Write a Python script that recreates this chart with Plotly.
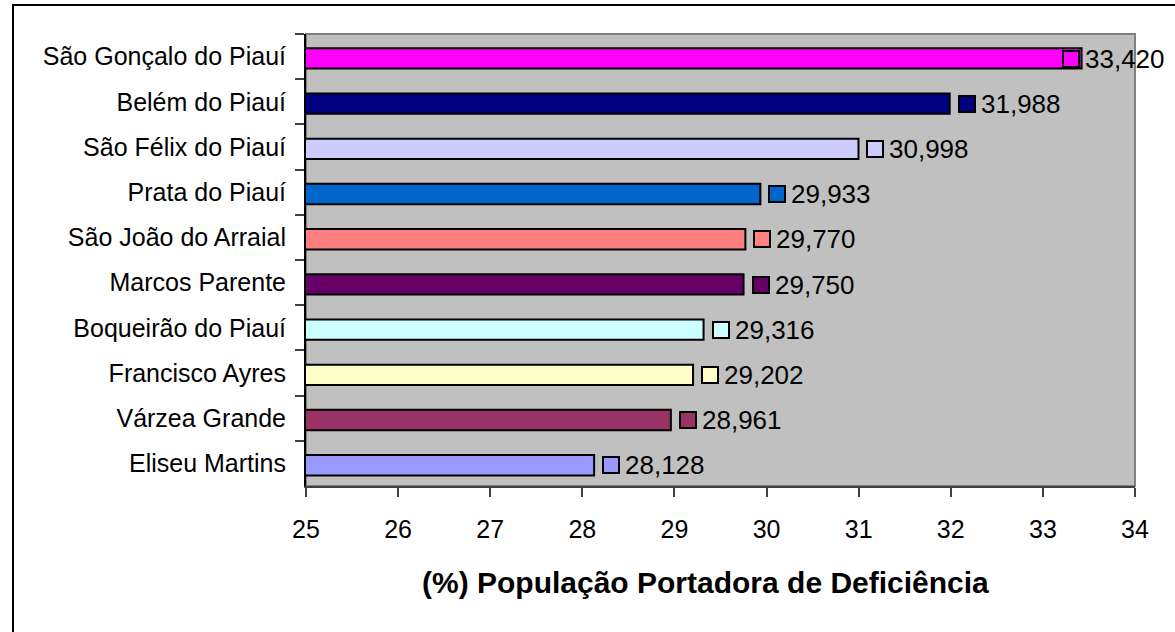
import plotly.graph_objects as go

# ---- data (top to bottom) ----
categories = ["São Gonçalo do Piauí", "Belém do Piauí", "São Félix do Piauí", "Prata do Piauí",
              "São João do Arraial", "Marcos Parente", "Boqueirão do Piauí", "Francisco Ayres",
              "Várzea Grande", "Eliseu Martins"]
values = [33.420, 31.988, 30.998, 29.933, 29.770, 29.750, 29.316, 29.202, 28.961, 28.128]
value_labels = ["33,420", "31,988", "30,998", "29,933", "29,770", "29,750", "29,316", "29,202", "28,961", "28,128"]
colors = ["#FF00FF", "#000080", "#CCCCFF", "#0066CC", "#FF8080", "#660066",
          "#CCFFFF", "#FFFFCC", "#993366", "#9999FF"]
x_range = [25, 34]
x_title = "(%) População Portadora de Deficiência"

# ---- layout geometry ----
W, H = 1175, 632
ML, MR, MT, MB = 306, 40, 34, 146
PW = W - ML - MR
PH = H - MT - MB
FONT = "Liberation Sans, Arial, sans-serif"
FS = 25
BAR_W = 0.45
BAR_SHIFT = 0.04  # bars sit slightly below category centre

fig = go.Figure()
fig.add_trace(go.Bar(
    y=categories, x=values, orientation="h", base=0,
    marker=dict(color=colors, line=dict(color="black", width=2)),
    width=BAR_W, offset=-BAR_W / 2 + BAR_SHIFT,
    showlegend=False, hoverinfo="skip",
))

annotations = []
key_w = 14
gap_bar = 8
gap_txt = 8
text_w = 80
max_right = 1166
ysh = -2
for cat, v, lab, c in zip(categories, values, value_labels, colors):
    px = ML + (v - x_range[0]) / (x_range[1] - x_range[0]) * PW
    left = px + gap_bar
    total = key_w + 2 + gap_txt + text_w
    if left + total > max_right:
        left = max_right - total
    shift = left - px
    annotations.append(dict(
        x=v, y=cat, xref="x", yref="y", text=" ", showarrow=False,
        xanchor="left", yanchor="middle", xshift=shift, yshift=ysh,
        width=key_w, height=key_w, bgcolor=c, bordercolor="black",
        borderwidth=2, borderpad=0, font=dict(size=6),
    ))
    annotations.append(dict(
        x=v, y=cat, xref="x", yref="y", text=lab, showarrow=False,
        xanchor="left", yanchor="middle", xshift=shift + key_w + 2 + gap_txt - 3, yshift=ysh,
        font=dict(family=FONT, size=26, color="black"),
    ))

# axis title as annotation
annotations.append(dict(
    x=(705.5 - ML) / PW, y=-(582 - (MT + PH)) / PH, xref="paper", yref="paper",
    text="<b>" + x_title + "</b>", showarrow=False, xanchor="center", yanchor="middle",
    font=dict(family=FONT, size=30, color="black"),
))

def px_to_paper_x(p):
    return (p - ML) / PW

def py_to_paper_y(p):
    return (MT + PH - p) / PH

shapes = [
    dict(type="rect", xref="paper", yref="paper", x0=0, x1=1, y0=0, y1=1,
         line=dict(color="#808080", width=2), fillcolor="rgba(0,0,0,0)", layer="below"),
    dict(type="rect", xref="paper", yref="paper",
         x0=px_to_paper_x(13), x1=px_to_paper_x(W + 50),
         y0=py_to_paper_y(H + 50), y1=py_to_paper_y(5),
         line=dict(color="black", width=2), fillcolor="rgba(0,0,0,0)"),
]

fig.update_layout(
    width=W, height=H,
    margin=dict(l=ML, r=MR, t=MT, b=MB, pad=0),
    paper_bgcolor="white", plot_bgcolor="#C0C0C0",
    font=dict(family=FONT, size=FS, color="black"),
    annotations=annotations,
    shapes=shapes,
    xaxis=dict(range=x_range, dtick=1, tick0=25, showgrid=False, zeroline=False,
               showline=True, linecolor="#404040", linewidth=2,
               ticks="outside", ticklen=9, tickwidth=2, tickcolor="#404040",
               tickfont=dict(family=FONT, size=FS, color="black"),
               ticklabelstandoff=11, fixedrange=True),
    yaxis=dict(autorange="reversed", type="category", showgrid=False, zeroline=False,
               showline=True, linecolor="black", linewidth=2,
               ticks="outside", ticklen=9, tickwidth=2, tickcolor="#404040",
               tickson="boundaries",
               tickfont=dict(family=FONT, size=FS, color="black"),
               ticklabelstandoff=13, fixedrange=True),
)

fig.write_html("out.html", config={"displayModeBar": False},
               post_script="document.body.style.margin='0px';")
